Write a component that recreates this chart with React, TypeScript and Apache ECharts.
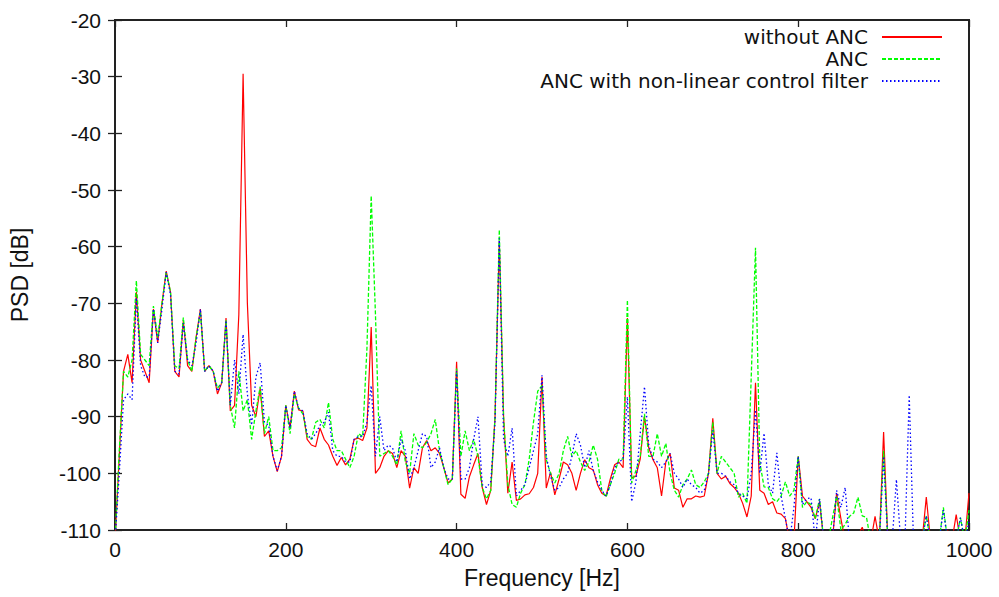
import React, { useEffect, useRef } from "react";
import * as echarts from "echarts";

// Frequency grid step (Hz); values sampled every 5 Hz from 0 to 1000 Hz
const FREQ_STEP = 5;

const SERIES_NAMES = ["without ANC", "ANC", "ANC with non-linear control filter"];

// PSD [dB], without ANC (red)
const WITHOUT_ANC = [
  -112, -97, -82, -79, -84, -68, -80, -82, -84, -71,
  -77, -70, -64.3, -68, -82, -83, -73, -81, -82, -76,
  -71, -82, -81, -82, -86, -84, -72.6, -89, -88, -72,
  -29.5, -70, -88, -90, -85, -93.5, -92.5, -97, -99.7, -97,
  -88, -92, -85.5, -88.8, -89, -94, -95, -95.3, -92, -94,
  -95, -97, -98.6, -97.2, -98.5, -97.5, -94, -93.8, -94.2, -92,
  -74.2, -100, -99, -97, -96, -96.5, -99, -96, -97, -102.6,
  -99, -100, -95.5, -94.2, -96, -95.5, -96.5, -99, -101.7, -101,
  -80.3, -103.7, -104.4, -100.6, -98.5, -96.5, -102.5, -105.5, -103, -90,
  -59, -90, -103.5, -98, -104.8, -104.5, -103.8, -103.6, -102.5, -100,
  -83, -102.6, -99.8, -103.8, -101, -98, -98.5, -100, -103, -100,
  -97.6, -99, -99.4, -102, -103.5, -104, -101, -98.5, -98, -99,
  -72.6, -100.8, -100.5, -97.5, -90, -95.5, -97.6, -99, -104, -98,
  -96.5, -102.6, -103, -106, -104.5, -104.5, -104, -104.2, -104, -100,
  -90.3, -100, -101, -100.5, -101.8, -102.5, -103.5, -105.3, -107.7, -104,
  -84, -103, -103.5, -105.5, -105, -107, -107.2, -108, -112, -112,
  -97, -104, -105, -106, -108, -105, -112, -112, -112, -103.5,
  -108, -112, -112, -112, -111, -109.5, -112, -112, -107.6, -112,
  -92.7, -112, -112, -112, -112, -112, -112, -112, -112, -112,
  -104.2, -112, -112, -112, -112, -110, -112, -107.3, -112, -112,
  -103.5,
];

// PSD [dB], ANC (green)
const ANC = [
  -112, -96, -82, -83, -80, -66, -79, -80, -81, -70.5,
  -76, -70, -64.5, -68, -81, -81.5, -72.5, -80, -82, -76,
  -71.5, -82, -81, -82, -85, -84, -73, -88, -92, -82,
  -89, -87, -94, -89, -84.7, -93, -90, -96, -96, -95.5,
  -88, -93, -86, -88.5, -89.5, -93.5, -94, -91, -90.5, -92,
  -87.5, -94, -96, -96, -97.5, -99, -97, -93, -93.5, -78,
  -51, -72, -97, -96.5, -96, -97, -98.5, -92.5, -98, -100,
  -93, -95, -95.5, -94.5, -93, -90.5, -96, -99, -102, -101,
  -81.5, -97, -92.5, -96, -94, -97, -102.5, -104.5, -103, -90,
  -57, -90, -102, -105.5, -106, -103.5, -102, -97.5, -91, -85.5,
  -84.5, -97.6, -100, -101.7, -100, -96, -93.5, -97, -96, -98,
  -99.5, -98, -95, -97.5, -103, -104.2, -102, -100, -97.5, -97.5,
  -69.4, -101.7, -99.5, -97, -89.5, -97, -97, -93, -97, -94.7,
  -100, -103, -104.2, -102, -101, -99.4, -102, -102.5, -101.5, -100,
  -91, -100, -97, -98, -99, -100, -104.2, -103.5, -105.3, -83,
  -60.2, -98, -102.4, -102.5, -104.5, -105, -104, -101.5, -104, -103,
  -97, -106, -105, -105.5, -108, -104.5, -112, -112, -108, -104,
  -110, -109, -107.6, -107, -104.2, -107.5, -107.8, -112, -112, -112,
  -96, -112, -112, -112, -112, -112, -112, -112, -112, -112,
  -107.5, -112, -112, -112, -106, -112, -112, -112, -107.8, -112,
  -106.5,
];

// PSD [dB], ANC with non-linear control filter (blue)
const ANC_NONLINEAR = [
  -112, -100, -87, -86, -87, -69, -81, -83, -83, -71,
  -77, -71, -64.5, -68.5, -82, -82.5, -73.5, -80, -81, -77,
  -71, -82, -81, -82, -85.5, -84, -73, -88, -80, -86,
  -75.5, -86, -91.5, -83, -80.5, -91, -91.5, -97, -99.5, -97,
  -88, -92, -85.5, -88.5, -89, -93, -94, -93, -91.5, -91,
  -89.2, -96, -97, -97, -98, -98, -94, -93.5, -93.5, -91,
  -84.5, -97, -90, -96, -95, -95.5, -98, -94, -96, -101,
  -99, -96, -93, -93.5, -99, -98, -95.5, -99, -101, -101,
  -82, -101, -101, -99, -94, -90, -102, -102.5, -101.5, -91,
  -58.5, -94, -97, -92, -104, -103, -102, -99, -96, -93,
  -82.7, -97, -100.5, -103, -102.5, -101, -100, -97, -93, -95,
  -99, -96, -99.5, -101.5, -103, -104, -102, -99, -98, -97.5,
  -86.5, -105, -101.5, -93, -84.7, -95, -97.5, -98, -99, -98,
  -96.5, -100, -101, -102.5, -101, -102, -102.5, -103.5, -103, -100,
  -92.4, -100, -100, -100.5, -101.5, -102, -103.5, -104, -104.5, -100,
  -88.8, -100, -92.9, -102, -103.5, -96.4, -104, -108, -112, -106,
  -97, -105.5, -104.5, -104.3, -112, -104.5, -112, -112, -112, -103,
  -106, -102.5, -112, -112, -112, -112, -112, -112, -112, -112,
  -97, -112, -112, -101.1, -112, -112, -86.2, -112, -112, -112,
  -107.5, -112, -112, -112, -106.5, -112, -112, -112, -107.8, -112,
  -108.5,
];

const SERIES_VALUES = [WITHOUT_ANC, ANC, ANC_NONLINEAR];
const SERIES_COLORS = ["#ff0000", "#00ff00", "#0000ff"];
const SERIES_DASH: any[] = ["solid", [4, 2], [1.5, 2.5]];

function toPairs(values: number[]) {
  return values.map((v, i) => [i * FREQ_STEP, v]);
}

export default function App() {
  const ref = useRef<HTMLDivElement>(null);

  useEffect(() => {
    if (!ref.current) return;
    const chart = echarts.init(ref.current, null, { renderer: "svg" });
    const font = "'Liberation Sans', sans-serif";
    const legendFont = "'DejaVu Sans', sans-serif";
    const textColor = "#111";

    const tickStyle = { show: true, inside: true, length: 7, lineStyle: { color: "#222", width: 1.3 } };

    chart.setOption({
      animation: false,
      backgroundColor: "#ffffff",
      textStyle: { fontFamily: font },
      grid: {
        left: 113,
        right: 30,
        top: 20,
        bottom: 67,
        show: true,
        borderColor: "#222",
        borderWidth: 2,
        backgroundColor: "transparent",
      },
      xAxis: [
        {
          type: "value",
          min: 0,
          max: 1000,
          interval: 200,
          position: "bottom",
          name: "Frequency [Hz]",
          nameLocation: "middle",
          nameGap: 36,
          nameTextStyle: { fontFamily: font, fontSize: 23, color: textColor },
          axisLine: { show: false },
          axisTick: tickStyle,
          axisLabel: {
            fontFamily: font,
            fontSize: 21,
            color: textColor,
            margin: 9,
            formatter: (v: number) => String(v),
          },
          splitLine: { show: false },
        },
        {
          type: "value",
          min: 0,
          max: 1000,
          interval: 200,
          position: "top",
          axisLine: { show: false },
          axisTick: tickStyle,
          axisLabel: { show: false },
          splitLine: { show: false },
        },
      ],
      yAxis: [
        {
          type: "value",
          min: -110,
          max: -20,
          interval: 10,
          position: "left",
          name: "PSD [dB]",
          nameLocation: "middle",
          nameGap: 84,
          nameRotate: 90,
          nameTextStyle: { fontFamily: font, fontSize: 23, color: textColor },
          axisLine: { show: false },
          axisTick: tickStyle,
          axisLabel: {
            fontFamily: font,
            fontSize: 21,
            color: textColor,
            margin: 14,
            formatter: (v: number) => String(v),
          },
          splitLine: { show: false },
        },
        {
          type: "value",
          min: -110,
          max: -20,
          interval: 10,
          position: "right",
          axisLine: { show: false },
          axisTick: tickStyle,
          axisLabel: { show: false },
          splitLine: { show: false },
        },
      ],
      legend: SERIES_NAMES.map((name, i) => ({
        data: [name],
        right: 56,
        top: 27 + i * 22,
        padding: 0,
        orient: "horizontal",
        align: "right",
        itemWidth: 60,
        itemHeight: 12,
        selectedMode: false,
        itemStyle: { opacity: 0 },
        textStyle: {
          fontFamily: legendFont,
          fontSize: 20,
          lineHeight: 18,
          color: textColor,
          padding: [0, 9, 0, 0],
        },
      })),
      series: SERIES_NAMES.map((name, i) => ({
        name,
        type: "line",
        data: toPairs(SERIES_VALUES[i]),
        symbol: "none",
        showSymbol: false,
        clip: true,
        xAxisIndex: 0,
        yAxisIndex: 0,
        itemStyle: { color: SERIES_COLORS[i] },
        lineStyle: { color: SERIES_COLORS[i], width: i === 0 ? 1.2 : 1.3, type: SERIES_DASH[i] },
        z: 2 + i,
      })),
    });

    return () => chart.dispose();
  }, []);

  return (
    <div
      ref={ref}
      style={{ position: "absolute", left: 0, top: 0, width: 999, height: 597 }}
    />
  );
}
